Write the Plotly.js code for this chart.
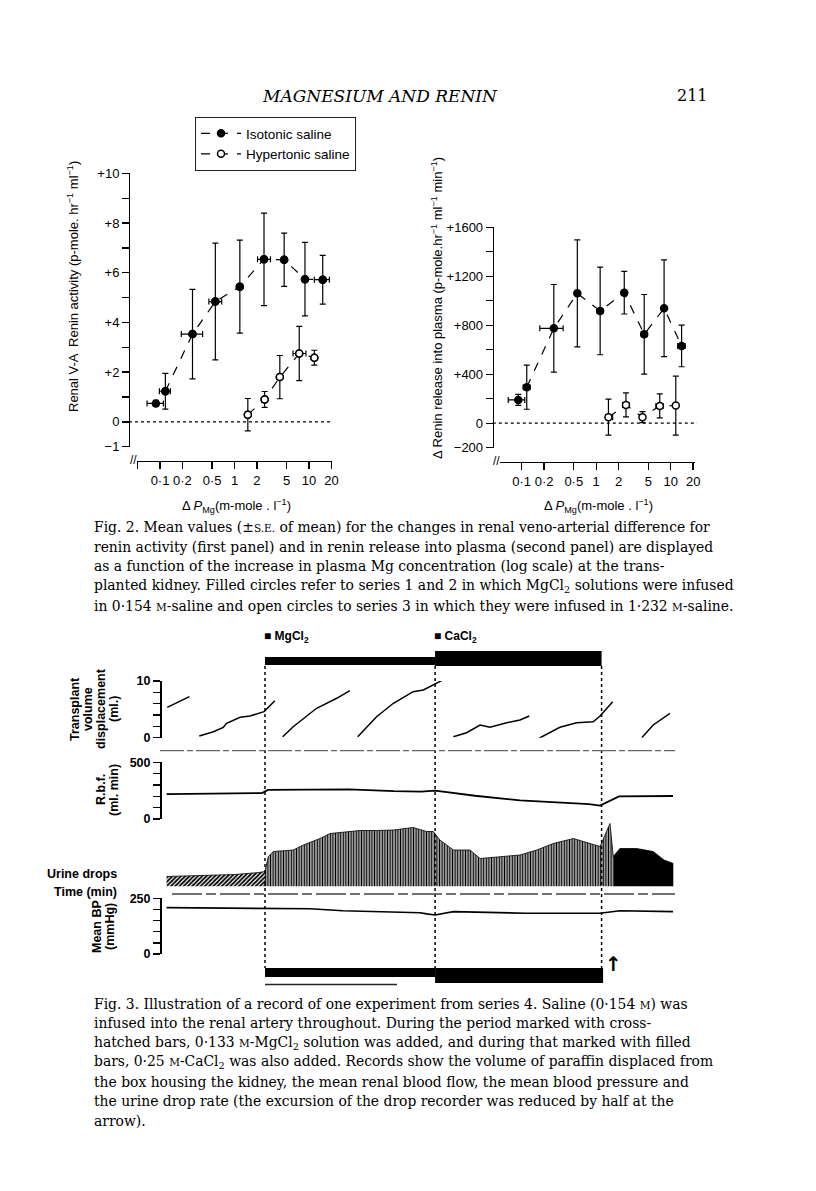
<!DOCTYPE html>
<html>
<head>
<meta charset="utf-8">
<script src="https://cdn.plot.ly/plotly-3.0.1.min.js"></script>
<style>
  body { margin: 0; background: #fff; }
  #page { width: 816px; height: 1191px; }
</style>
</head>
<body>
<div id="page"></div>
<script>
// ---- Fig. 2, first panel: renal V-A renin activity (p-mole hr-1 ml-1)
var isoMgA   = [0.088, 0.118, 0.273, 0.553, 1.18, 2.49, 4.64, 8.83, 15.3];
var isoActA  = [0.74, 1.23, 3.53, 4.84, 5.44, 6.54, 6.52, 5.74, 5.72];
var isoErrA  = [0.12, 0.72, 1.80, 2.35, 1.87, 1.86, 1.07, 1.48, 0.98];
var isoMgHiA = [0.023, 0.02, 0.10, 0.12, 0, 0.55, 0, 0.4, 3.5];
var isoMgLoA = [0.021, 0.02, 0.08, 0.10, 0, 0.45, 0, 0.4, 3.5];

var hypMgA   = [1.51, 2.54, 4.06, 7.40, 11.8];
var hypActA  = [0.29, 0.90, 1.80, 2.75, 2.58];
var hypErrA  = [0.65, 0.32, 0.87, 1.09, 0.30];
var hypMgHiA = [0, 0.15, 0.25, 1.7, 0.8];
var hypMgLoA = [0, 0.15, 0.25, 1.3, 0.8];

// ---- Fig. 2, second panel: renin release into plasma (p-mole hr-1 ml-1 min-1)
var isoMgB   = [0.090, 0.117, 0.27, 0.558, 1.13, 2.38, 4.41, 8.15, 14.0];
var isoRelB  = [190, 294, 775, 1061, 917, 1066, 726, 939, 631];
var isoErrB  = [45, 180, 358, 437, 358, 174, 325, 395, 170];
var isoMgHiB = [0.02, 0.012, 0.09, 0.04, 0.1, 0.2, 0.4, 0.6, 1.6];
var isoMgLoB = [0.024, 0.012, 0.095, 0.04, 0.1, 0.2, 0.4, 0.6, 1.6];

var hypMgB   = [1.46, 2.51, 4.18, 7.13, 11.7];
var hypRelB  = [49, 149, 49, 141, 144];
var hypErrB  = [147, 98, 45, 98, 241];
var hypMgHiB = [0.2, 0.25, 0.3, 0.8, 0];
var hypMgLoB = [0.1, 0.25, 0.3, 0.8, 0];

var logTicks   = [0.05, 0.1, 0.2, 0.5, 1, 2, 5, 10, 20];
var logTextA   = ['', '0·1', '0·2', '0·5', '1', '2', '5', '10', '20'];
var logTextB   = ['0·05', '0·1', '0·2', '0·5', '1', '2', '5', '10', '20'];
var actTicks   = [-1, 0, 1, 2, 3, 4, 5, 6, 7, 8, 9, 10];
var actText    = ['−1', '0', '', '+2', '', '+4', '', '+6', '', '+8', '', '+10'];
var relTicks   = [-200, 0, 200, 400, 600, 800, 1000, 1200, 1400, 1600];
var relText    = ['−200', '0', '', '+400', '', '+800', '', '+1200', '', '+1600'];

// ---- Fig. 3: record of one experiment (time in min)
var mgStart = 35, caStart = 91.7, infEnd = 147.2, arrowT = 150.9;

var volT  = [2.4, 9.8, null,
             13.1, 17.8, 21.1, 22.2, 26.7, 30, 34.7, 38.3, null,
             40.9, 44.4, 52.2, 58.9, 63.3, null,
             65.9, 72.2, 77.8, 84.4, 87.8, 94.7, null,
             97.8, 102.2, 106.7, 110, 115.6, 120, 123.1, null,
             126.4, 133.3, 138.9, 144.4, 146.7, 150.9, null,
             160.6, 164.4, 170];
var volMl = [5.36, 7.25, null,
             0.3, 1.06, 1.83, 2.54, 3.6, 3.83, 4.6, 6.5, null,
             0.18, 1.94, 5.19, 6.95, 8.29, null,
             0.18, 3.7, 6.07, 8.11, 8.41, 10.3, null,
             0.18, 0.88, 2.24, 1.83, 2.65, 3.12, 3.83, null,
             -0.1, 1.83, 2.65, 2.82, 3.83, 6.35, null,
             0, 2.24, 4.3];

var rbfT = [2.2, 20, 34, 36, 50, 63, 78, 87, 91.7, 105, 120, 133, 143, 146.7, 149, 153, 171];
var rbfV = [220, 222, 228, 256, 260, 262, 245, 241, 250, 205, 165, 145, 132, 118, 150, 200, 203];

var urineT1 = [2.2, 15, 25, 33, 35];
var urineV1 = [10, 11, 12, 14, 15];
var urineT2 = [35, 36.1, 37.8, 44.4, 47.8, 53.3, 56.7, 62.2, 66.7, 72.2, 77.8, 84.4, 88.9, 91.1,
               93.3, 97.8, 103.3, 106.7, 114.4, 120, 125.6, 131.1, 137.8, 143.3, 146.7, 150, 151.1];
var urineV2 = [15, 30, 35, 36.5, 41.5, 48, 53, 55, 56, 56, 56.5, 59, 55, 55,
               46.5, 36.5, 36.5, 28, 30, 31.5, 36.5, 43, 48, 43, 40, 63, 30];
var urineT3 = [151.1, 153.3, 158.9, 164.4, 168, 171.1];
var urineV3 = [30, 38, 38, 35, 26.5, 23];

var bpT = [2.2, 20, 35, 50, 61, 77.8, 86.7, 88.9, 91.7, 97.8, 122, 146.7, 153.3, 171];
var bpV = [208, 206, 205, 203, 194, 190, 185, 180, 175, 190, 183, 183, 194, 190];

var volTicks = [0, 2, 4, 6, 8, 10];
var volText  = ['0', '', '', '', '', '10'];
var rbfTicks = [0, 100, 200, 300, 400, 500];
var rbfText  = ['0', '', '', '', '', '500'];
var bpTicks  = [0, 50, 100, 150, 200, 250];
var bpText   = ['0', '', '', '', '', '250'];

var W = 816, H = 1191;
function px(x) { return x / W; }
function py(y) { return 1 - y / H; }

var SANS = 'Liberation Sans, Arial, sans-serif';
var SERIF = 'DejaVu Serif, serif';

function points(x, y, ey, exHi, exLo, xa, ya, open) {
  return {
    x: x, y: y, xaxis: xa, yaxis: ya, type: 'scatter', mode: 'markers', showlegend: false,
    marker: { symbol: 'circle', size: 7, color: open ? 'white' : 'black', line: { color: 'black', width: 1.5 } },
    error_y: { type: 'data', array: ey, visible: true, color: 'black', thickness: 1.2, width: 3 },
    error_x: { type: 'data', array: exHi, arrayminus: exLo, visible: true, color: 'black', thickness: 1.2, width: 3 }
  };
}
function dashed(x, y, xa, ya, name, open, show) {
  return {
    x: x, y: y, xaxis: xa, yaxis: ya, type: 'scatter', mode: show ? 'lines+markers' : 'lines',
    name: name, showlegend: !!show,
    line: { color: 'black', width: 1.2, dash: 'dash' },
    marker: { symbol: 'circle', size: 7, color: open ? 'white' : 'black', line: { color: 'black', width: 1.5 } }
  };
}

var data = [
  dashed(isoMgA.slice(1), isoActA.slice(1), 'x', 'y', 'Isotonic saline', false, true),
  dashed(hypMgA, hypActA, 'x', 'y', 'Hypertonic saline', true, true),
  dashed(isoMgB.slice(1), isoRelB.slice(1), 'x2', 'y2', '', false, false),
  dashed(hypMgB, hypRelB, 'x2', 'y2', '', true, false),
  points(isoMgA, isoActA, isoErrA, isoMgHiA, isoMgLoA, 'x', 'y', false),
  points(hypMgA, hypActA, hypErrA, hypMgHiA, hypMgLoA, 'x', 'y', true),
  points(isoMgB, isoRelB, isoErrB, isoMgHiB, isoMgLoB, 'x2', 'y2', false),
  points(hypMgB, hypRelB, hypErrB, hypMgHiB, hypMgLoB, 'x2', 'y2', true),

  { x: volT, y: volMl, xaxis: 'x3', yaxis: 'y3', type: 'scatter', mode: 'lines', showlegend: false,
    connectgaps: false, line: { color: 'black', width: 1.5 } },
  { x: rbfT, y: rbfV, xaxis: 'x3', yaxis: 'y4', type: 'scatter', mode: 'lines', showlegend: false,
    line: { color: 'black', width: 1.8 } },
  { x: urineT1, y: urineV1, xaxis: 'x3', yaxis: 'y5', type: 'scatter', mode: 'lines', showlegend: false,
    fill: 'tozeroy', line: { color: 'black', width: 0.8 },
    fillpattern: { shape: '/', fgcolor: 'black', bgcolor: 'white', size: 3, solidity: 0.6 } },
  { x: urineT2, y: urineV2, xaxis: 'x3', yaxis: 'y5', type: 'scatter', mode: 'lines', showlegend: false,
    fill: 'tozeroy', line: { color: 'black', width: 0.8 },
    fillpattern: { shape: '|', fgcolor: 'black', bgcolor: 'white', size: 2.6, solidity: 0.6 } },
  { x: urineT3, y: urineV3, xaxis: 'x3', yaxis: 'y5', type: 'scatter', mode: 'lines', showlegend: false,
    fill: 'tozeroy', fillcolor: 'black', line: { color: 'black', width: 0.8 } },
  { x: bpT, y: bpV, xaxis: 'x3', yaxis: 'y6', type: 'scatter', mode: 'lines', showlegend: false,
    line: { color: 'black', width: 1.6 } }
];

var tickFont = { family: SANS, size: 13, color: 'black' };
var boldTick = { family: SANS, size: 12.5, color: 'black', weight: 'bold' };

function fig2x(dom, range, pos, text) {
  return { type: 'log', domain: dom, range: range, anchor: 'free', position: pos,
    showline: true, linecolor: 'black', linewidth: 1.3, ticks: 'outside', ticklen: 7, tickwidth: 1.3,
    tickcolor: 'black', tickvals: logTicks, ticktext: text, tickfont: tickFont,
    showgrid: false, zeroline: false, fixedrange: true };
}
function fig2y(dom, range, pos, vals, text) {
  return { domain: dom, range: range, anchor: 'free', position: pos,
    showline: true, linecolor: 'black', linewidth: 1.3, ticks: 'outside', ticklen: 7, tickwidth: 1.3,
    tickcolor: 'black', tickvals: vals, ticktext: text, tickfont: tickFont,
    showgrid: false, zeroline: false, fixedrange: true };
}
function fig3y(top, bottom, range, vals, text, show) {
  return { domain: [py(bottom), py(top)], range: range, anchor: 'free', position: px(160),
    visible: show, showline: true, linecolor: 'black', linewidth: 1.5, ticks: 'outside', ticklen: 7,
    tickwidth: 1.5, tickcolor: 'black', tickvals: vals, ticktext: text, tickfont: boldTick,
    showgrid: false, zeroline: false, fixedrange: true };
}

var shapes = [
  { type: 'line', xref: 'x domain', yref: 'y', x0: -0.041, x1: 1, y0: 0, y1: 0,
    line: { color: 'black', width: 1.2, dash: 'dot' } },
  { type: 'line', xref: 'x2 domain', yref: 'y2', x0: -0.037, x1: 1.01, y0: 0, y1: 0,
    line: { color: 'black', width: 1.2, dash: 'dot' } },
  // infusion bars, top
  { type: 'rect', xref: 'x3', yref: 'paper', x0: mgStart, x1: caStart, y0: py(665), y1: py(657),
    fillcolor: 'black', line: { width: 0 } },
  { type: 'rect', xref: 'x3', yref: 'paper', x0: caStart, x1: infEnd, y0: py(666), y1: py(651),
    fillcolor: 'black', line: { width: 0 } },
  // infusion bars, bottom
  { type: 'rect', xref: 'x3', yref: 'paper', x0: mgStart, x1: caStart, y0: py(977), y1: py(968),
    fillcolor: 'black', line: { width: 0 } },
  { type: 'rect', xref: 'x3', yref: 'paper', x0: caStart, x1: infEnd + 0.5, y0: py(983), y1: py(968),
    fillcolor: 'black', line: { width: 0 } },
  { type: 'line', xref: 'x3', yref: 'paper', x0: mgStart, x1: 79, y0: py(984.5), y1: py(984.5),
    line: { color: '#222', width: 1.3 } },
  // event markers
  { type: 'line', xref: 'x3', yref: 'paper', x0: mgStart, x1: mgStart, y0: py(666), y1: py(968),
    line: { color: 'black', width: 1.5, dash: 'dot' } },
  { type: 'line', xref: 'x3', yref: 'paper', x0: caStart, x1: caStart, y0: py(666), y1: py(968),
    line: { color: 'black', width: 1.5, dash: 'dot' } },
  { type: 'line', xref: 'x3', yref: 'paper', x0: infEnd, x1: infEnd, y0: py(666), y1: py(968),
    line: { color: 'black', width: 1.5, dash: 'dot' } },
  // recorder base lines
  { type: 'line', xref: 'x3', yref: 'paper', x0: 0, x1: 171.7, y0: py(750.7), y1: py(750.7),
    line: { color: '#666', width: 1.3, dash: '24px,3px,6px,3px' } },
  { type: 'line', xref: 'x3', yref: 'paper', x0: 4, x1: 171.7, y0: py(894), y1: py(894),
    line: { color: '#444', width: 1.3, dash: '30px,4px,10px,4px' } }
];

function ann(text, x, y, o) {
  o = o || {};
  return { text: text, xref: 'paper', yref: 'paper', x: px(x), y: py(y), showarrow: false,
    xanchor: o.xa || 'center', yanchor: o.ya || 'middle', textangle: o.rot || 0,
    font: { family: o.family || SANS, size: o.size || 13, color: 'black', weight: o.weight || 'normal',
            style: o.style || 'normal' } };
}
var SC = function (s) { return '<span style="font-size:10.5px">' + s + '</span>'; };

var cap2 = [
  'Fig. 2. Mean values (±' + SC('S.E.') + ' of mean) for the changes in renal veno-arterial difference for',
  'renin activity (first panel) and in renin release into plasma (second panel) are displayed',
  'as a function of the increase in plasma Mg concentration (log scale) at the trans-',
  'planted kidney. Filled circles refer to series 1 and 2 in which MgCl<sub>2</sub> solutions were infused',
  'in 0·154 ' + SC('M') + '-saline and open circles to series 3 in which they were infused in 1·232 ' + SC('M') + '-saline.'
];
var cap3 = [
  'Fig. 3. Illustration of a record of one experiment from series 4. Saline (0·154 ' + SC('M') + ') was',
  'infused into the renal artery throughout. During the period marked with cross-',
  'hatched bars, 0·133 ' + SC('M') + '-MgCl<sub>2</sub> solution was added, and during that marked with filled',
  'bars, 0·25 ' + SC('M') + '-CaCl<sub>2</sub> was also added. Records show the volume of paraffin displaced from',
  'the box housing the kidney, the mean renal blood flow, the mean blood pressure and',
  'the urine drop rate (the excursion of the drop recorder was reduced by half at the',
  'arrow).'
];
var cap2Y = [527, 547, 566, 586, 606];
var cap3Y = [1004, 1023, 1043, 1062, 1082, 1101, 1121];

var annotations = [
  ann('MAGNESIUM AND RENIN', 380, 96, { family: SERIF, size: 17, style: 'italic' }),
  ann('211', 692, 96, { family: SERIF, size: 16 }),
  ann('Renal V-A  Renin activity (p-mole. hr<sup>−1</sup> ml<sup>−1</sup>)', 73, 287, { rot: -90, size: 13 }),
  ann('Δ Renin release into plasma (p-mole.hr<sup>−1</sup> ml<sup>−1</sup> min<sup>−1</sup>)', 437, 308, { rot: -90, size: 13 }),
  ann('Δ <i>P</i><sub>Mg</sub>(m-mole . l<sup>−1</sup>)', 236, 506, { size: 13 }),
  ann('Δ <i>P</i><sub>Mg</sub>(m-mole . l<sup>−1</sup>)', 598, 506, { size: 13 }),
  ann('//', 133, 460, { size: 12 }),
  ann('//', 497, 461, { size: 12 }),
  ann('■ MgCl<sub>2</sub>', 262, 637, { xa: 'left', size: 12, weight: 'bold' }),
  ann('■ CaCl<sub>2</sub>', 432, 637, { xa: 'left', size: 12, weight: 'bold' }),
  ann('Transplant', 75, 709, { rot: -90, size: 12.5, weight: 'bold' }),
  ann('volume', 88, 709, { rot: -90, size: 12.5, weight: 'bold' }),
  ann('displacement', 101, 709, { rot: -90, size: 12.5, weight: 'bold' }),
  ann('(ml.)', 114, 709, { rot: -90, size: 12.5, weight: 'bold' }),
  ann('R.b.f.', 101, 790, { rot: -90, size: 12.5, weight: 'bold' }),
  ann('(ml. min)', 114, 790, { rot: -90, size: 12.5, weight: 'bold' }),
  ann('Urine drops', 119, 874, { xa: 'right', size: 12.5, weight: 'bold' }),
  ann('Time (min)', 119, 892, { xa: 'right', size: 12.5, weight: 'bold' }),
  ann('Mean BP', 97, 927, { rot: -90, size: 12.5, weight: 'bold' }),
  ann('(mmHg)', 110, 927, { rot: -90, size: 12.5, weight: 'bold' }),
  ann('↑', 613, 964, { family: 'DejaVu Sans, sans-serif', size: 20, weight: 'bold' })
];
cap2.forEach(function (t, i) { annotations.push(ann(t, 92, cap2Y[i], { xa: 'left', family: SERIF, size: 13.9 })); });
cap3.forEach(function (t, i) { annotations.push(ann(t, 92, cap3Y[i], { xa: 'left', family: SERIF, size: 13.9 })); });

var layout = {
  width: W, height: H, autosize: false,
  margin: { l: 0, r: 0, t: 0, b: 0, pad: 0 },
  paper_bgcolor: 'white', plot_bgcolor: 'rgba(0,0,0,0)',
  font: { family: SANS, color: 'black' },
  xaxis:  fig2x([px(137), px(332)], [-1.309, 1.309], py(461), logTextA),
  yaxis:  fig2y([py(446.7), py(173.3)], [-1, 10], px(129), actTicks, actText),
  xaxis2: fig2x([px(500), px(695)], [-1.291, 1.326], py(462), logTextB),
  yaxis2: fig2y([py(447.7), py(227.3)], [-200, 1600], px(492.7), relTicks, relText),
  xaxis3: { domain: [px(160), px(675)], range: [0, 171.67], anchor: 'free', position: 0, visible: false, fixedrange: true },
  yaxis3: fig3y(681, 737.7, [0, 10], volTicks, volText, true),
  yaxis4: fig3y(762.3, 819, [0, 500], rbfTicks, rbfText, true),
  yaxis5: fig3y(816.5, 886.5, [0, 70], [], [], false),
  yaxis6: fig3y(898.3, 954, [0, 250], bpTicks, bpText, true),
  legend: { x: px(195), y: py(117), xanchor: 'left', yanchor: 'top', bgcolor: 'white',
    bordercolor: '#222', borderwidth: 1, font: { family: SANS, size: 13.5, color: 'black' },
    itemwidth: 40, tracegroupgap: 0 },
  shapes: shapes,
  annotations: annotations
};

Plotly.newPlot('page', data, layout, { staticPlot: true, displayModeBar: false });
</script>
</body>
</html>
